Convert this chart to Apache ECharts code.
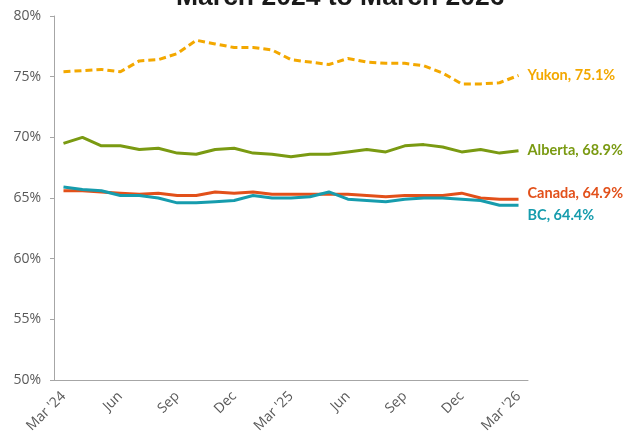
<!DOCTYPE html>
<html>
<head>
<meta charset="utf-8">
<script src="https://cdn.jsdelivr.net/npm/echarts@6/dist/echarts.min.js"></script>
<style>
  html, body { margin: 0; padding: 0; background: #fff; }
  #chart { width: 632px; height: 440px; }
</style>
</head>
<body>
<div id="chart"></div>
<script>
var months = ["Mar '24", 'Apr', 'May', 'Jun', 'Jul', 'Aug', 'Sep', 'Oct', 'Nov', 'Dec', 'Jan', 'Feb',
  "Mar '25", 'Apr', 'May', 'Jun', 'Jul', 'Aug', 'Sep', 'Oct', 'Nov', 'Dec', 'Jan', 'Feb', "Mar '26"]

var yukon = [75.4, 75.5, 75.6, 75.4, 76.3, 76.4, 76.9, 78.0, 77.7, 77.4, 77.4, 77.2,
  76.4, 76.2, 76.0, 76.5, 76.2, 76.1, 76.1, 75.9, 75.3, 74.4, 74.4, 74.5, 75.1]
var alberta = [69.5, 70.0, 69.3, 69.3, 69.0, 69.1, 68.7, 68.6, 69.0, 69.1, 68.7, 68.6,
  68.4, 68.6, 68.6, 68.8, 69.0, 68.8, 69.3, 69.4, 69.2, 68.8, 69.0, 68.7, 68.9]
var canada = [65.6, 65.6, 65.5, 65.4, 65.3, 65.4, 65.2, 65.2, 65.5, 65.4, 65.5, 65.3,
  65.3, 65.3, 65.3, 65.3, 65.2, 65.1, 65.2, 65.2, 65.2, 65.4, 65.0, 64.9, 64.9]
var bc = [65.9, 65.7, 65.6, 65.2, 65.2, 65.0, 64.6, 64.6, 64.7, 64.8, 65.2, 65.0,
  65.0, 65.1, 65.5, 64.9, 64.8, 64.7, 64.9, 65.0, 65.0, 64.9, 64.8, 64.4, 64.4]

var chart = echarts.init(document.getElementById('chart'))

function endText(p) {
  return p.seriesName + ', ' + Number(p.value).toFixed(1) + '%'
}

function lineSeries(name, data, color, dashed, dy) {
  return {
    name: name,
    type: 'line',
    data: data,
    symbol: 'none',
    smooth: false,
    lineStyle: {
      color: color,
      width: 3,
      type: dashed ? [7, 4] : 'solid',
    },
    itemStyle: { color: color },
    endLabel: {
      show: true,
      formatter: endText,
      color: color,
      fontFamily: 'Lato',
      fontSize: 14.5,
      fontWeight: 'bold',
      distance: 9,
      offset: [0, dy],
    },
    emphasis: { disabled: true },
  }
}

var option = {
  animation: false,
  title: {
    text: 'March 2024 to March 2026',
    left: 171,
    top: -21,
    textStyle: {
      fontFamily: 'Liberation Sans',
      fontSize: 26.5,
      fontWeight: 'bold',
      color: '#1a1a1a',
    },
  },
  grid: {
    left: 54,
    right: 104,
    top: 16,
    bottom: 60,
  },
  xAxis: {
    type: 'category',
    data: months,
    boundaryGap: true,
    axisLine: { lineStyle: { color: '#a6a6a6', width: 1 } },
    axisTick: {
      inside: true,
      length: 4,
      lineStyle: { color: '#a6a6a6' },
      interval: function (i) {
        return i % 2 === 1
      },
    },
    axisLabel: {
      interval: 2,
      rotate: 45,
      margin: 14,
      color: '#595959',
      fontFamily: 'Open Sans',
      fontSize: 14,
    },
    splitLine: { show: false },
  },
  yAxis: {
    type: 'value',
    min: 50,
    max: 80,
    interval: 5,
    axisLine: { show: true, lineStyle: { color: '#a6a6a6', width: 1 } },
    axisTick: { show: true, length: 4, lineStyle: { color: '#a6a6a6' } },
    axisLabel: {
      formatter: '{value}%',
      margin: 13,
      color: '#595959',
      fontFamily: 'Open Sans',
      fontSize: 14,
    },
    splitLine: { show: false },
  },
  series: [
    lineSeries('Yukon', yukon, '#f3a800', true, 0),
    lineSeries('Alberta', alberta, '#7a9a12', false, 0),
    lineSeries('Canada', canada, '#e2501a', false, -6),
    lineSeries('BC', bc, '#169cad', false, 10),
  ],
}

chart.setOption(option)
</script>
</body>
</html>
